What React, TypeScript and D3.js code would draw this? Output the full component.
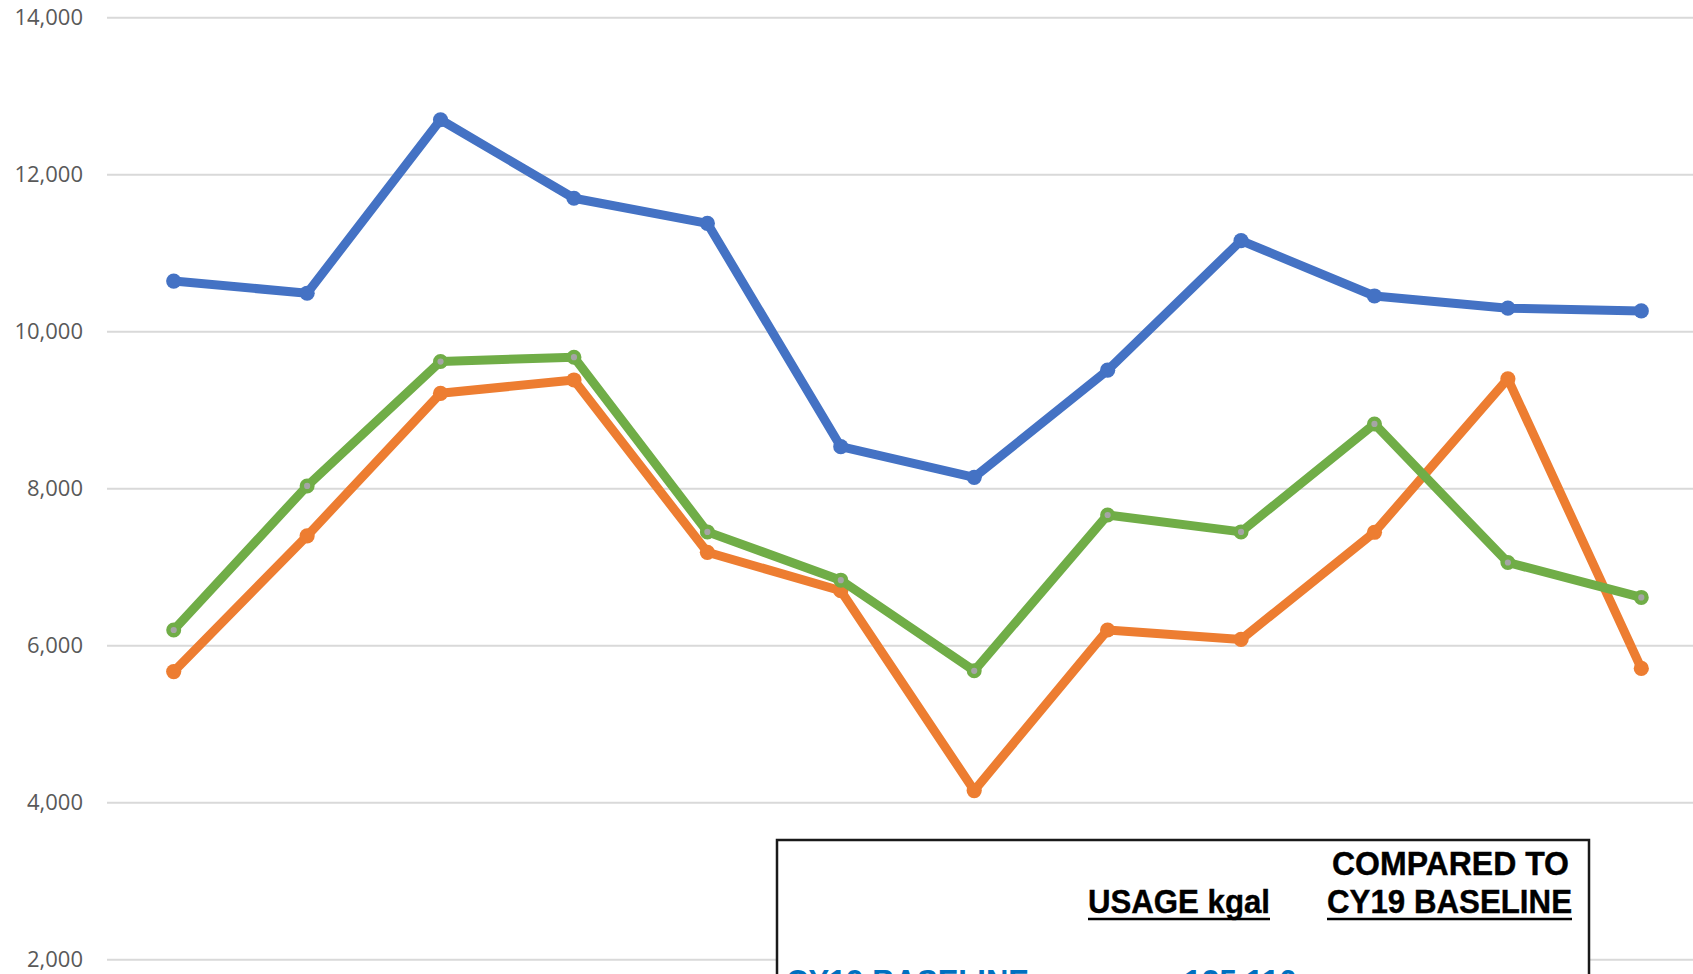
import React from 'react';
import * as d3 from 'd3';

const width = 1693;
const height = 974;

// 12 monthly points, x labels are cropped out of the picture
const months = ['Jan', 'Feb', 'Mar', 'Apr', 'May', 'Jun', 'Jul', 'Aug', 'Sep', 'Oct', 'Nov', 'Dec'];
const seriesNames = ['CY19 BASELINE', 'CY20', 'CY21'];
const cy19 = [10645, 10490, 12700, 11700, 11380, 8535, 8145, 9510, 11160, 10455, 10300, 10265];
const cy20 = [5670, 7400, 9215, 9385, 7190, 6700, 4155, 6200, 6080, 7445, 9400, 5710];
const cy21 = [6200, 8035, 9620, 9675, 7450, 6835, 5680, 7665, 7450, 8825, 7060, 6615];
const seriesColors = ['#4472C4', '#ED7D31', '#70AD47'];

const tableHeadTop = ['', 'COMPARED TO'];
const tableHead = ['USAGE kgal', 'CY19 BASELINE'];
const tableLabels = ['CY19 BASELINE'];
const tableUsage = ['125,110'];

const plot = { left: 107, right: 1708, top: 17.7, bottom: 1116.7 };
const box = { x: 777, y: 840, w: 812, h: 200 };

export default function App() {
  const x = d3.scalePoint<string>().domain(months).range([plot.left, plot.right]).padding(0.5);
  const y = d3.scaleLinear().domain([0, 14000]).range([plot.bottom, plot.top]);
  const fmt = d3.format(',');
  const line = d3
    .line<number>()
    .x((d, i) => x(months[i]) as number)
    .y((d) => y(d));

  const all = [cy19, cy20, cy21];
  const font = "'Liberation Sans Narrow', 'Arial Narrow', 'Liberation Sans', Arial, sans-serif";

  return (
    <svg width={width} height={height} style={{ position: 'absolute', left: 0, top: 0, background: '#fff' }}>
      {y.ticks(7).map((t) => (
        <g key={t}>
          <line x1={plot.left} x2={width} y1={y(t)} y2={y(t)} stroke="#d9d9d9" strokeWidth={2} />
          <text
            x={83}
            y={y(t)}
            dy="0.35em"
            textAnchor="end"
            fontFamily="'Open Sans', sans-serif"
            fontSize={22}
            fill="#595959"
          >
            {fmt(t)}
          </text>
        </g>
      ))}

      {all.map((s, k) => (
        <g key={seriesNames[k]}>
          <path
            d={line(s) || ''}
            fill="none"
            stroke={seriesColors[k]}
            strokeWidth={9}
            strokeLinejoin="round"
            strokeLinecap="round"
          />
          {s.map((v, i) => (
            <circle
              key={i}
              cx={x(months[i])}
              cy={y(v)}
              r={k === 2 ? 5.3 : 7.6}
              fill={k === 2 ? '#a5a5a5' : seriesColors[k]}
              stroke={k === 2 ? seriesColors[k] : 'none'}
              strokeWidth={k === 2 ? 4.4 : 0}
            />
          ))}
        </g>
      ))}

      {/* data table box */}
      <rect x={box.x} y={box.y} width={box.w} height={box.h} fill="#fff" stroke="#1a1a1a" strokeWidth={2.5} />
      <text x={1450.5} y={875} textAnchor="middle" fontFamily={font} fontWeight={700} fontSize={33}
        textLength={237} lengthAdjust="spacingAndGlyphs" fill="#000" stroke="#000" strokeWidth={0.4}>
        {tableHeadTop[1]}
      </text>
      {tableHead.map((h, i) => {
        const cx = i === 0 ? 1179 : 1449.5;
        const w = i === 0 ? 182 : 245;
        return (
          <g key={h}>
            <text x={cx} y={912.5} textAnchor="middle" fontFamily={font} fontWeight={700} fontSize={33}
              textLength={w} lengthAdjust="spacingAndGlyphs" fill="#000" stroke="#000" strokeWidth={0.4}>
              {h}
            </text>
            <line x1={cx - w / 2} x2={cx + w / 2} y1={919} y2={919} stroke="#000" strokeWidth={2.5} />
          </g>
        );
      })}
      {tableLabels.map((l, i) => (
        <g key={l}>
          <text x={786} y={992.5} fontFamily={font} fontWeight={700} fontSize={33}
            textLength={243} lengthAdjust="spacingAndGlyphs" fill="#0070C0">
            {l}
          </text>
          <text x={1297} y={992.5} textAnchor="end" fontFamily={font} fontWeight={700} fontSize={33}
            textLength={113} lengthAdjust="spacingAndGlyphs" fill="#0070C0">
            {tableUsage[i]}
          </text>
        </g>
      ))}
    </svg>
  );
}
